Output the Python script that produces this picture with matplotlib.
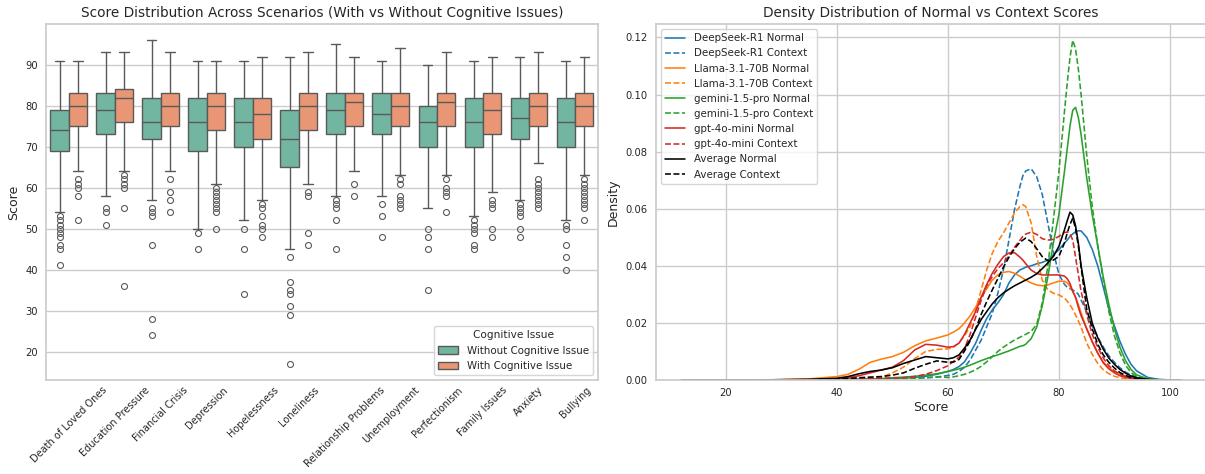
import matplotlib
matplotlib.use("Agg")
import matplotlib.pyplot as plt
import seaborn as sns
from matplotlib.patches import Patch

# ---------------- data: boxplot (left) ----------------
categories = ["Death of Loved Ones", "Education Pressure", "Financial Crisis", "Depression",
              "Hopelessness", "Loneliness", "Relationship Problems", "Unemployment",
              "Perfectionism", "Family Issues", "Anxiety", "Bullying"]

without_whislo = [54, 58, 57, 50, 52, 45, 58, 58, 55, 53, 57, 52]
without_q1 = [69, 73, 72, 69, 70, 65, 73, 73, 70, 70, 72, 70]
without_med = [74, 79, 76, 76, 76, 72, 79, 78, 76, 76, 77, 76]
without_q3 = [79, 83, 82, 82, 82, 79, 83, 83, 80, 82, 82, 82]
without_whishi = [91, 93, 96, 91, 91, 92, 95, 91, 90, 91, 92, 91]
without_fliers = [
    [53, 52, 51, 50, 49, 48, 46, 45, 41],
    [55, 54, 51],
    [55, 54, 53, 46, 28, 24],
    [49, 45],
    [50, 45, 34],
    [43, 37, 35, 34, 31, 29, 17],
    [57, 56, 55, 52, 45],
    [56, 53, 48],
    [50, 48, 45, 35],
    [52, 51, 50, 49, 46, 45],
    [56, 55, 54, 53, 50, 48],
    [51, 50, 46, 43, 40],
]

with_whislo = [64, 64, 64, 61, 57, 61, 64, 63, 63, 59, 66, 63]
with_q1 = [75, 76, 75, 74, 72, 74, 75, 75, 75, 73, 75, 75]
with_med = [80, 82, 80, 80, 78, 80, 81, 80, 81, 79, 80, 80]
with_q3 = [83, 84, 83, 83, 82, 83, 83, 83, 83, 83, 83, 83]
with_whishi = [91, 93, 93, 91, 92, 93, 92, 94, 93, 92, 93, 92]
with_fliers = [
    [62, 61, 60, 58, 52],
    [63, 62, 61, 60, 55, 36],
    [62, 59, 57, 54],
    [60, 59, 58, 57, 56, 55, 54, 50],
    [56, 55, 53, 51, 50, 48],
    [59, 58, 49, 46],
    [61, 58],
    [62, 61, 58, 57, 56, 55],
    [62, 60, 59, 58, 54],
    [57, 56, 55, 50, 48],
    [62, 61, 60, 59, 58, 57, 56, 55],
    [62, 61, 60, 59, 58, 57, 56, 55, 52],
]
hue_labels = ["Without Cognitive Issue", "With Cognitive Issue"]

# ---------------- data: density curves (right) ----------------
score_grid = [12, 25, 30, 35, 40, 42, 44, 46, 48, 50, 52, 54, 56, 58, 60, 61, 62, 63, 64, 65,
              66, 67, 68, 69, 70, 71, 72, 73, 73.5, 74, 75, 76, 77, 78, 79, 80, 81, 81.5, 82,
              82.5, 83, 83.5, 84, 85, 86, 87, 88, 89, 90, 91, 92, 93, 94, 96, 98, 100, 102]

deepseek_normal = [0, 0, 0.0001, 0.0001, 0.0002, 0.0003, 0.0003, 0.0004, 0.0004, 0.0005, 0.0007,
                   0.0009, 0.0013, 0.002, 0.003, 0.0037, 0.0047, 0.0064, 0.0094, 0.0129, 0.0175,
                   0.0216, 0.0246, 0.027, 0.0298, 0.034, 0.0368, 0.0386, 0.039, 0.0395, 0.040,
                   0.0407, 0.0412, 0.042, 0.0439, 0.0456, 0.048, 0.049, 0.0503, 0.0512, 0.0519,
                   0.0523, 0.0522, 0.050, 0.0458, 0.040, 0.0325, 0.025, 0.019, 0.0135, 0.009,
                   0.0055, 0.0032, 0.0009, 0.0002, 0.00003, 0]
deepseek_context = [0, 0, 0, 0.0001, 0.0001, 0.0002, 0.0002, 0.0003, 0.0003, 0.0004, 0.0005,
                    0.0006, 0.0008, 0.001, 0.0016, 0.002, 0.003, 0.0045, 0.007, 0.0105, 0.014,
                    0.0187, 0.0234, 0.0304, 0.0386, 0.049, 0.0597, 0.068, 0.0715, 0.0732, 0.074,
                    0.0712, 0.065, 0.055, 0.045, 0.037, 0.0335, 0.0325, 0.032, 0.0315, 0.031,
                    0.030, 0.028, 0.024, 0.019, 0.015, 0.0115, 0.0085, 0.0062, 0.0043, 0.0028,
                    0.0018, 0.001, 0.0003, 0.0001, 0, 0]
llama_normal = [0, 0.00005, 0.0001, 0.0004, 0.0012, 0.002, 0.0038, 0.0062, 0.0073, 0.0082, 0.0097,
                0.012, 0.0137, 0.0147, 0.0158, 0.0168, 0.018, 0.020, 0.0225, 0.0255, 0.029,
                0.032, 0.035, 0.0368, 0.0377, 0.038, 0.0374, 0.0363, 0.0357, 0.035, 0.034,
                0.0333, 0.033, 0.0333, 0.034, 0.0346, 0.0346, 0.034, 0.0328, 0.031, 0.029,
                0.0265, 0.0235, 0.018, 0.0133, 0.0093, 0.0063, 0.0043, 0.0031, 0.0021, 0.0014,
                0.0009, 0.0006, 0.0002, 0.00005, 0, 0]
llama_context = [0, 0, 0.0001, 0.0002, 0.0004, 0.0006, 0.0008, 0.0009, 0.001, 0.0025, 0.0045,
                 0.0075, 0.0100, 0.0107, 0.0109, 0.0115, 0.013, 0.0155, 0.0187, 0.0246, 0.0316,
                 0.0386, 0.0444, 0.0485, 0.0515, 0.055, 0.0585, 0.0608, 0.0614, 0.0608, 0.055,
                 0.0433, 0.035, 0.0316, 0.0304, 0.0298, 0.0287, 0.0276, 0.0263, 0.0247, 0.0228,
                 0.0207, 0.0185, 0.013, 0.009, 0.0058, 0.0036, 0.0022, 0.0013, 0.0008, 0.0004,
                 0.0002, 0.0001, 0, 0, 0, 0]
gemini_normal = [0, 0, 0, 0.0001, 0.0001, 0.0002, 0.0002, 0.0003, 0.0005, 0.0008, 0.001, 0.0013,
                 0.0017, 0.0022, 0.003, 0.0034, 0.0039, 0.0045, 0.0052, 0.006, 0.0068, 0.0075,
                 0.0082, 0.0088, 0.0095, 0.0102, 0.011, 0.0118, 0.012, 0.0125, 0.0145, 0.0185,
                 0.026, 0.036, 0.048, 0.058, 0.073, 0.081, 0.089, 0.0945, 0.0955, 0.092, 0.086,
                 0.071, 0.058, 0.047, 0.036, 0.0265, 0.018, 0.0115, 0.0068, 0.0037, 0.0018,
                 0.0004, 0.0001, 0, 0]
gemini_context = [0, 0, 0, 0, 0.0001, 0.0001, 0.0002, 0.0002, 0.0003, 0.0004, 0.0005, 0.0006,
                  0.0008, 0.0011, 0.0009, 0.0011, 0.0015, 0.002, 0.0027, 0.0036, 0.0048, 0.0064,
                  0.0082, 0.0100, 0.0115, 0.0128, 0.014, 0.015, 0.0155, 0.016, 0.017, 0.0195,
                  0.027, 0.040, 0.056, 0.073, 0.094, 0.104, 0.113, 0.119, 0.116, 0.109, 0.100,
                  0.079, 0.061, 0.047, 0.035, 0.024, 0.0155, 0.0095, 0.0052, 0.0026, 0.0012,
                  0.0002, 0, 0, 0]
gpt_normal = [0, 0, 0.0001, 0.0002, 0.0004, 0.0008, 0.0015, 0.0025, 0.0035, 0.0045, 0.0068,
              0.0105, 0.0125, 0.0122, 0.0115, 0.0117, 0.0129, 0.016, 0.020, 0.024, 0.029, 0.0335,
              0.0374, 0.0405, 0.0432, 0.0445, 0.0446, 0.043, 0.042, 0.0408, 0.0385, 0.0373,
              0.0368, 0.0368, 0.0368, 0.0368, 0.0364, 0.0355, 0.0338, 0.031, 0.029, 0.0255,
              0.0225, 0.018, 0.0135, 0.0095, 0.006, 0.0039, 0.0025, 0.0015, 0.0009, 0.0005,
              0.0003, 0.0001, 0, 0, 0]
gpt_context = [0, 0, 0, 0.0001, 0.0002, 0.0003, 0.0004, 0.0005, 0.0006, 0.0007, 0.0008, 0.0012,
               0.002, 0.0033, 0.005, 0.0065, 0.008, 0.011, 0.016, 0.022, 0.028, 0.033, 0.0363,
               0.039, 0.041, 0.0435, 0.0465, 0.049, 0.0503, 0.0511, 0.0518, 0.051, 0.0495, 0.049,
               0.0493, 0.0503, 0.0517, 0.0518, 0.0512, 0.049, 0.043, 0.037, 0.031, 0.023, 0.016,
               0.0115, 0.0077, 0.005, 0.0032, 0.002, 0.0012, 0.0007, 0.0004, 0.0001, 0, 0, 0]
average_normal = [0, 0, 0.0001, 0.0002, 0.0006, 0.0012, 0.0022, 0.003, 0.0035, 0.0043, 0.0058,
                  0.0070, 0.0082, 0.0078, 0.0074, 0.0078, 0.0088, 0.0112, 0.014, 0.0178, 0.0212,
                  0.024, 0.0267, 0.0288, 0.0305, 0.0318, 0.033, 0.034, 0.0345, 0.035, 0.036,
                  0.0372, 0.039, 0.041, 0.0433, 0.0468, 0.0526, 0.0558, 0.0588, 0.0578, 0.054,
                  0.048, 0.040, 0.029, 0.020, 0.0148, 0.0108, 0.0077, 0.0055, 0.0037, 0.0024,
                  0.0014, 0.0008, 0.0002, 0.00005, 0, 0]
average_context = [0, 0, 0, 0.0001, 0.0003, 0.0005, 0.0008, 0.001, 0.0012, 0.0017, 0.0025,
                   0.0041, 0.0055, 0.0067, 0.0062, 0.0063, 0.0072, 0.0102, 0.0137, 0.018, 0.023,
                   0.0275, 0.0316, 0.0355, 0.0395, 0.043, 0.046, 0.0483, 0.049, 0.0497, 0.0485,
                   0.046, 0.0432, 0.0418, 0.042, 0.0433, 0.048, 0.0515, 0.0545, 0.0567, 0.053,
                   0.047, 0.0395, 0.025, 0.018, 0.0125, 0.0088, 0.0062, 0.0042, 0.0026, 0.0016,
                   0.0009, 0.0005, 0.0001, 0, 0, 0]

model_names = ["DeepSeek-R1", "Llama-3.1-70B", "gemini-1.5-pro", "gpt-4o-mini", "Average"]
normal_series = [deepseek_normal, llama_normal, gemini_normal, gpt_normal, average_normal]
context_series = [deepseek_context, llama_context, gemini_context, gpt_context, average_context]
model_colors = ["#1f77b4", "#ff7f0e", "#2ca02c", "#d62728", "black"]

# ---------------- style ----------------
sns.set_theme(style="whitegrid")
plt.rcParams["font.family"] = ["DejaVu Sans"]

fig = plt.figure(figsize=(12.05, 4.74), dpi=100)
ax1 = fig.add_axes([45.7 / 1205, 94 / 474, 552.3 / 1205, 356 / 474])
ax2 = fig.add_axes([655.5 / 1205, 94 / 474, 551 / 1205, 356 / 474])

pal = sns.color_palette("Set2")
box_colors = [sns.desaturate(pal[0], 0.75), sns.desaturate(pal[1], 0.75)]
line_gray = (0.348, 0.348, 0.348)

def make_stats(lo, q1, med, q3, hi, fl):
    return [dict(whislo=lo[i], q1=q1[i], med=med[i], q3=q3[i], whishi=hi[i], fliers=fl[i])
            for i in range(len(categories))]

groups = [
    make_stats(without_whislo, without_q1, without_med, without_q3, without_whishi, without_fliers),
    make_stats(with_whislo, with_q1, with_med, with_q3, with_whishi, with_fliers),
]
for g, (stats, offset) in enumerate(zip(groups, [-0.2, 0.2])):
    ax1.bxp(stats, positions=[i + offset for i in range(len(categories))], widths=0.4,
            patch_artist=True, manage_ticks=False,
            boxprops=dict(facecolor=box_colors[g], edgecolor=line_gray, linewidth=1.0),
            whiskerprops=dict(color=line_gray, linewidth=1.0),
            capprops=dict(color=line_gray, linewidth=1.0),
            medianprops=dict(color=line_gray, linewidth=1.0),
            flierprops=dict(marker="o", markerfacecolor="none", markeredgecolor=line_gray,
                            markersize=4.3, markeredgewidth=0.8))

ax1.set_xlim(-0.5, len(categories) - 0.5)
ax1.set_ylim(13.05, 99.95)
ax1.set_xticks(range(len(categories)))
ax1.set_xticklabels(categories, rotation=45, fontsize=7.0)
ax1.tick_params(axis="y", labelsize=7.2, length=0, pad=5.5)
ax1.tick_params(axis="x", length=0, pad=3.5)
ax1.grid(axis="x", visible=False)
ax1.set_ylabel("Score", fontsize=9, labelpad=4)
ax1.set_title("Score Distribution Across Scenarios (With vs Without Cognitive Issues)",
              fontsize=9.8, pad=5)
handles = [Patch(facecolor=box_colors[i], edgecolor=line_gray, linewidth=1.0, label=hue_labels[i])
           for i in range(2)]
ax1.legend(handles=handles, title="Cognitive Issue", loc="lower right", fontsize=7.4,
           title_fontsize=7.6, frameon=True)

for name, color, nser, cser in zip(model_names, model_colors, normal_series, context_series):
    ax2.plot(score_grid, nser, color=color, linewidth=1.15, linestyle="-", label=f"{name} Normal")
    ax2.plot(score_grid, cser, color=color, linewidth=1.15, linestyle="--", label=f"{name} Context")

ax2.set_xlim(7.3, 106.6)
ax2.set_ylim(0, 0.1247)
ax2.set_xticks([20, 40, 60, 80, 100])
ax2.set_yticks([0.0, 0.02, 0.04, 0.06, 0.08, 0.10, 0.12])
ax2.set_yticklabels(["0.00", "0.02", "0.04", "0.06", "0.08", "0.10", "0.12"])
ax2.tick_params(labelsize=7.2, length=0, pad=6.0)
ax2.set_xlabel("Score", fontsize=9, labelpad=2)
ax2.set_ylabel("Density", fontsize=9, labelpad=4)
ax2.set_title("Density Distribution of Normal vs Context Scores", fontsize=9.8, pad=5)
ax2.legend(loc="upper left", fontsize=7.4, frameon=True, handlelength=2.0, labelspacing=0.5)

fig.savefig("out.png", dpi=100)
